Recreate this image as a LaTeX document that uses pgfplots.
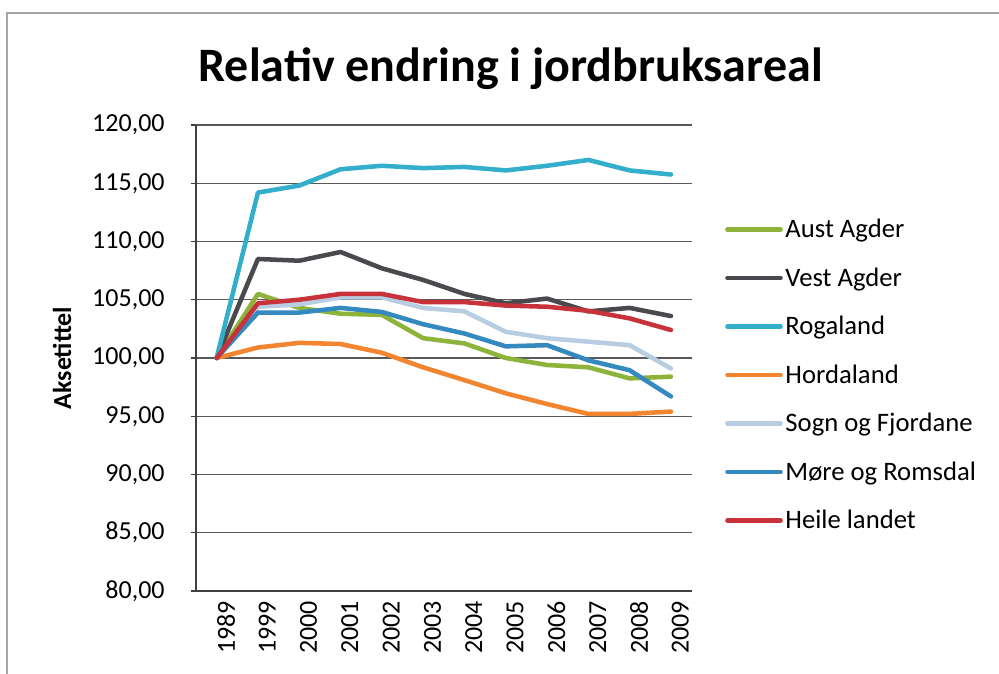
\documentclass[border=0pt]{standalone}
\usepackage{pgfplots}
\pgfplotsset{compat=1.18}
\usepackage{fontspec}
\setmainfont{Carlito}
\definecolor{cAust}{HTML}{8DB33A}
\definecolor{cVest}{HTML}{4A4A4E}
\definecolor{cRoga}{HTML}{33AECB}
\definecolor{cHord}{HTML}{F28530}
\definecolor{cSogn}{HTML}{B8CCE2}
\definecolor{cMore}{HTML}{3489BF}
\definecolor{cHeil}{HTML}{C8323A}
\begin{document}
\begin{tikzpicture}
\useasboundingbox (0,0) rectangle (749.25pt,505.5pt);
\fill[white] (0,0) rectangle (749.25pt,505.5pt);
\draw[gray!70, line width=1pt] (5.25pt,0) -- (5.25pt,495.75pt) -- (749.25pt,495.75pt);
\node[font=\fontsize{36}{40}\selectfont\bfseries, anchor=base] at (383pt,444pt) {Relativ endring i jordbruksareal};
\node[font=\fontsize{19.5}{22}\selectfont\bfseries, rotate=90] at (46.5pt,237pt) {Aksetittel};
\begin{axis}[
  at={(147pt,62.25pt)}, anchor=south west,
  scale only axis, width=371.7pt, height=349.5pt,
  xmin=-0.5, xmax=11.5, ymin=80, ymax=120,
  ytick={80,85,...,120},
  xtick={0,...,11},
  xticklabels={1989,1999,2000,2001,2002,2003,2004,2005,2006,2007,2008,2009},
  axis lines*=left,
  axis line style={black!75, line width=0.9pt},
  ymajorgrids,
  grid style={black!65, line width=0.8pt},
  tick align=outside,
  major tick length=4pt,
  xtick style={draw=none},
  ytick style={black!75, line width=0.8pt},
  /pgf/number format/fixed,
  /pgf/number format/fixed zerofill,
  /pgf/number format/precision=2,
  /pgf/number format/use comma,
  /pgf/number format/assume math mode=true,
  y tick label style={font=\fontsize{19.5}{22}\selectfont, xshift=-16pt},
  x tick label style={font=\fontsize{19.5}{22}\selectfont, rotate=90, anchor=east, yshift=-7pt},
  legend style={at={(1,0.81)}, anchor=north west, xshift=22pt, draw=none, fill=none,
    font=\fontsize{20}{22}\selectfont, row sep=17.0pt},
  legend cell align=left,
  legend image code/.code={\draw[line width=3.2pt, #1] (0pt,0pt) -- (40pt,0pt);},
  every axis plot/.append style={line width=3.4pt, line join=round, line cap=round, mark=none},
]
\addplot[cAust] coordinates {(0,100) (1,105.5) (2,104.3) (3,103.8) (4,103.7) (5,101.7) (6,101.25) (7,100.0) (8,99.4) (9,99.2) (10,98.25) (11,98.4)};
\addlegendentry{Aust Agder}
\addplot[cVest] coordinates {(0,100) (1,108.5) (2,108.35) (3,109.1) (4,107.7) (5,106.7) (6,105.5) (7,104.7) (8,105.1) (9,104.0) (10,104.3) (11,103.6)};
\addlegendentry{Vest Agder}
\addplot[cRoga] coordinates {(0,100) (1,114.2) (2,114.8) (3,116.2) (4,116.5) (5,116.3) (6,116.4) (7,116.1) (8,116.5) (9,117.0) (10,116.1) (11,115.75)};
\addlegendentry{Rogaland}
\addplot[cHord] coordinates {(0,100) (1,100.9) (2,101.3) (3,101.2) (4,100.45) (5,99.2) (6,98.1) (7,96.97) (8,96.05) (9,95.2) (10,95.2) (11,95.4)};
\addlegendentry{Hordaland}
\addplot[cSogn] coordinates {(0,100) (1,104.4) (2,104.6) (3,105.2) (4,105.2) (5,104.3) (6,104.0) (7,102.25) (8,101.7) (9,101.4) (10,101.1) (11,99.1)};
\addlegendentry{Sogn og Fjordane}
\addplot[cMore] coordinates {(0,100) (1,103.9) (2,103.9) (3,104.3) (4,103.95) (5,102.9) (6,102.1) (7,101.0) (8,101.1) (9,99.8) (10,98.95) (11,96.7)};
\addlegendentry{Møre og Romsdal}
\addplot[cHeil] coordinates {(0,100) (1,104.7) (2,105.0) (3,105.5) (4,105.5) (5,104.8) (6,104.8) (7,104.5) (8,104.4) (9,104.05) (10,103.4) (11,102.4)};
\addlegendentry{Heile landet}
\end{axis}
\end{tikzpicture}
\end{document}
